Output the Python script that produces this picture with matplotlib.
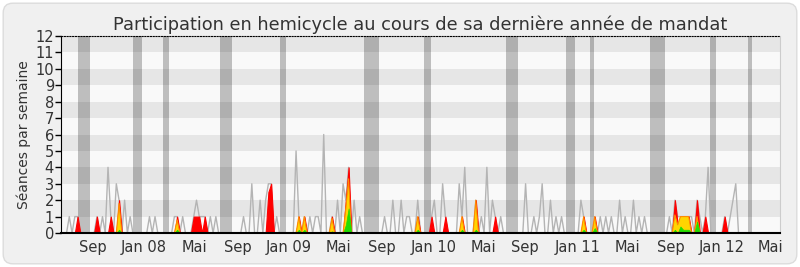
import numpy as np
import matplotlib
matplotlib.use("Agg")
import matplotlib.pyplot as plt
from matplotlib.patches import FancyBboxPatch

# weeks since start of mandate (June 2007)
n_weeks = 261

# number of hemicycle sessions per week (grey line)
seance_weeks = [3, 5, 6, 13, 15, 17, 18, 20, 21, 23, 25, 32, 34, 41, 42, 44, 48, 49, 50,
                51, 52, 54, 56, 66, 69, 72, 74, 75, 76, 78, 85, 86, 88, 90, 92, 93, 95,
                98, 100, 102, 103, 104, 106, 108, 117, 120, 123, 125, 126, 129, 134, 135,
                138, 139, 144, 145, 146, 150, 152, 154, 156, 157, 159, 168, 171, 173, 174,
                177, 179, 181, 188, 189, 193, 195, 197, 199, 202, 204, 207, 209, 211, 220,
                222, 223, 224, 225, 226, 227, 228, 230, 231, 233, 234, 240, 242, 243, 244]
seance_values = [1, 1, 1, 1, 1, 4, 1, 3, 2, 2, 1, 1, 1, 1, 1, 1, 1, 2, 1,
                 1, 1, 1, 1, 1, 3, 2, 2, 3, 3, 1, 5, 1, 1, 1, 1, 1, 6,
                 1, 2, 3, 2, 4, 2, 1, 1, 2, 2, 1, 1, 2, 1, 2,
                 3, 1, 3, 1, 4, 2, 1, 4, 2, 1, 1, 3, 1, 1, 3,
                 2, 1, 1, 2, 1, 1, 1, 1, 1, 2, 1, 2, 1, 1, 1,
                 2, 1, 1, 1, 1, 1, 1, 2, 1, 1, 4, 1, 1, 2, 3]

# deputy activity: presence (red), participation (yellow), interventions (green)
act_weeks = [6, 13, 18, 21, 42, 48, 49, 50, 52, 75, 76, 86, 88, 98, 103, 104, 129, 134,
             139, 145, 150, 157, 189, 193, 222, 223, 224, 225, 226, 227, 230, 233, 240]
presence = [1, 1, 1, 2, 1, 1, 1, 1, 1, 2.5, 3, 1, 1, 1, 2, 4, 1, 1,
            1, 1, 2, 1, 1, 1, 2, 0.5, 1, 1, 1, 1, 2, 1, 1]
participation = [0, 0, 0, 1.8, 0.8, 0, 0, 0, 0, 0, 0, 1, 1, 0.9, 1.5, 3.3, 1, 0,
                  0, 1, 2, 0, 1, 1, 1.1, 0.5, 1, 1, 1, 1, 1, 0, 0]
interventions = [0, 0, 0, 0.2, 0.2, 0, 0, 0, 0, 0, 0, 0.2, 0.2, 0.1, 0.5, 1.5, 0.2, 0,
                 0, 0.2, 0.2, 0, 0.2, 0.3, 0.2, 0, 0.4, 0.2, 0.2, 0.2, 0.7, 0, 0]

# parliamentary holidays (start week, end week)
vacances = [(6.1, 10.5), (26.0, 29.3), (36.9, 39.1), (57.5, 61.8), (79.2, 81.4),
            (109.6, 115.0), (131.3, 133.8), (160.9, 165.3), (182.6, 185.9),
            (191.3, 192.8), (213.0, 218.4), (234.7, 236.9), (248.5, 249.9)]

tick_weeks = [11.6, 30.0, 48.1, 63.8, 82.5, 100.2, 115.9, 134.9, 152.8, 167.8,
              186.8, 204.7, 220.5, 238.9, 256.7]
tick_labels = ["Sep", "Jan 08", "Mai", "Sep", "Jan 09", "Mai", "Sep", "Jan 10", "Mai",
               "Sep", "Jan 11", "Mai", "Sep", "Jan 12", "Mai"]

x = np.arange(n_weeks)
seances = np.zeros(n_weeks)
seances[seance_weeks] = seance_values
red = np.zeros(n_weeks)
red[act_weeks] = presence
yellow = np.zeros(n_weeks)
yellow[act_weeks] = participation
green = np.zeros(n_weeks)
green[act_weeks] = interventions

fig = plt.figure(figsize=(8, 2.67), dpi=100)
fig.patch.set_facecolor("white")
frame = FancyBboxPatch((0.004, 0.012), 0.992, 0.976, boxstyle="round,pad=0,rounding_size=0.012",
                       transform=fig.transFigure, facecolor="#f0f0f0", edgecolor="#dcdcdc",
                       linewidth=1, mutation_aspect=3.0, zorder=-10)
fig.patches.append(frame)

ax = fig.add_axes([0.07625, 0.1273, 0.89875, 0.7379])
ax.set_facecolor("#f9f9f9")
for y0 in range(1, 12, 2):
    ax.axhspan(y0, y0 + 1, color="#e6e6e6", lw=0, zorder=0)
for a, b in vacances:
    ax.axvspan(a, b, color="black", alpha=0.235, lw=0, zorder=1)

ax.plot(x, seances, color="#b4b4b4", lw=1, zorder=2)
ax.fill_between(x, 0, red, facecolor="#ff0000", edgecolor="#ff0000", lw=0.8, zorder=3)
ax.fill_between(x, 0, yellow, where=yellow > 0, interpolate=True, facecolor="#ffd500",
                edgecolor="#ff8c00", lw=0.8, zorder=4)
ax.fill_between(x, 0, green, facecolor="#22dd00", edgecolor="#22dd00", lw=0.5, zorder=5)

ax.set_xlim(0, n_weeks - 1)
ax.set_ylim(0, 12)
ax.set_yticks(range(13))
ax.set_xticks(tick_weeks)
ax.set_xticklabels(tick_labels)
ax.tick_params(axis="x", length=0, pad=5, labelsize=10.5, labelcolor="#333333")
ax.tick_params(axis="y", length=4, width=1, direction="out", pad=1, labelsize=10.5,
               labelcolor="#333333")

ax.spines["left"].set_color("black")
ax.spines["bottom"].set_color("black")
ax.spines["bottom"].set_linewidth(1.5)
ax.spines["bottom"].set_zorder(6)
ax.spines["right"].set_color("#cccccc")
ax.spines["top"].set_linestyle((0, (1, 1.5)))
ax.spines["top"].set_color("black")

ax.set_ylabel("Séances par semaine", fontsize=10, color="#333333", labelpad=3)
ax.set_title("Participation en hemicycle au cours de sa dernière année de mandat",
             fontsize=12.8, color="#333333", pad=4)

fig.savefig("out.png", dpi=100, facecolor=fig.get_facecolor())
